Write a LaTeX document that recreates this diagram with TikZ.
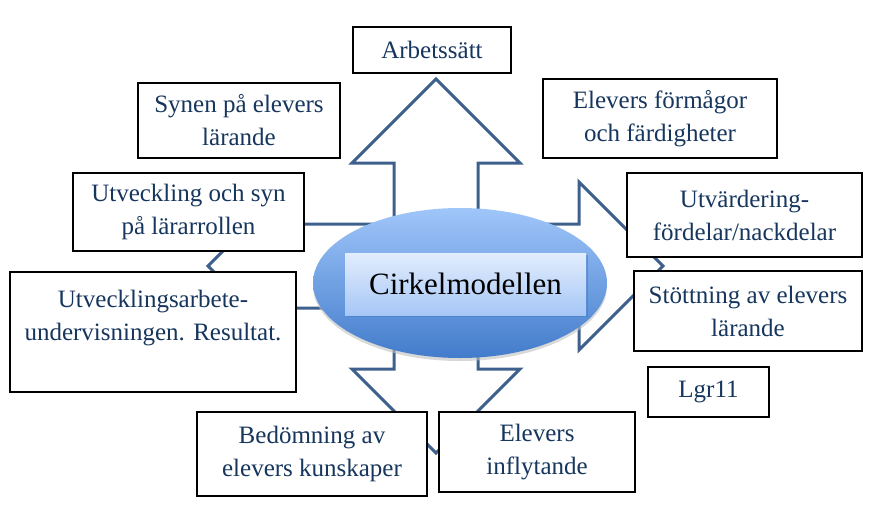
\documentclass[tikz,border=0pt]{standalone}
\usepackage{fontspec}
\setmainfont{Liberation Serif}
\usetikzlibrary{shapes.geometric}
\usetikzlibrary{shadows}
\usepackage{xcolor}

\definecolor{arrowblue}{RGB}{62,96,140}
\definecolor{textblue}{RGB}{23,54,93}
\definecolor{ovaltop}{RGB}{160,198,250}
\definecolor{ovalbottom}{RGB}{66,124,203}
\definecolor{labeltop}{RGB}{226,237,253}
\definecolor{labelbottom}{RGB}{166,199,246}

\tikzset{
  box/.style={draw=black,line width=1.2pt,fill=white,align=center,inner sep=0pt,
    text=textblue,font=\fontsize{25}{33}\selectfont},
  oval/.style={ellipse,inner sep=0pt,minimum width=294,minimum height=150,
    top color=ovaltop,bottom color=ovalbottom,
    drop shadow={shadow xshift=0pt,shadow yshift=-3pt,fill=black!25,opacity=0.6}},
  titlebox/.style={inner sep=0pt,minimum width=241,minimum height=62,
    top color=labeltop,bottom color=labelbottom,
    drop shadow={shadow xshift=2pt,shadow yshift=-2pt,fill=ovalbottom,opacity=0.6},
    font=\fontsize{31}{36}\selectfont}
}

\begin{document}
\begin{tikzpicture}[x=1pt,y=-1pt]
  \useasboundingbox (0,0) rectangle (873,530);
  % the four way arrow
  \draw[arrowblue,line width=3pt,fill=white,line join=miter]
    (436,79) -- (520,163) -- (478,163) -- (478,224) -- (579,224) -- (579,182)
    -- (663,266) -- (579,350) -- (579,308) -- (478,308) -- (478,369) -- (520,369)
    -- (436,453) -- (352,369) -- (394,369) -- (394,308) -- (292,308) -- (292,350)
    -- (208,266) -- (292,182) -- (292,224) -- (394,224) -- (394,163) -- (352,163) -- cycle;
  \node[oval] (modell) at (460,283) {};
  \node[titlebox] (cirkel) at (465.5,284) {Cirkelmodellen};

  \node[box,minimum width=158,minimum height=46] (arbets) at (432,50) {Arbetssätt};
  \node[box,minimum width=202,minimum height=75] (synen) at (239,120.5) {Synen på elevers\\lärande};
  \node[box,minimum width=234,minimum height=79] (formagor) at (660,118.5) {Elevers förmågor\\och färdigheter};
  \node[box,minimum width=231,minimum height=78] (lararroll) at (188.5,212) {Utveckling och syn\\på lärarrollen};
  \node[box,minimum width=286,minimum height=120] (resultat) at (153,332) {Utvecklingsarbete-\\undervisningen. Resultat.\\~};
  \node[box,minimum width=235,minimum height=84] (utvard) at (744.5,215) {Utvärdering-\\fördelar/nackdelar};
  \node[box,minimum width=228,minimum height=80] (stottning) at (748,311) {Stöttning av elevers\\lärande};
  \node[box,minimum width=121,minimum height=50] (lgr) at (708.5,392) {Lgr11};
  \node[box,minimum width=230,minimum height=84] (bedomning) at (312,454) {Bedömning av\\elevers kunskaper};
  \node[box,minimum width=196,minimum height=80] (inflytande) at (537,452) {Elevers\\inflytande};
\end{tikzpicture}
\end{document}
